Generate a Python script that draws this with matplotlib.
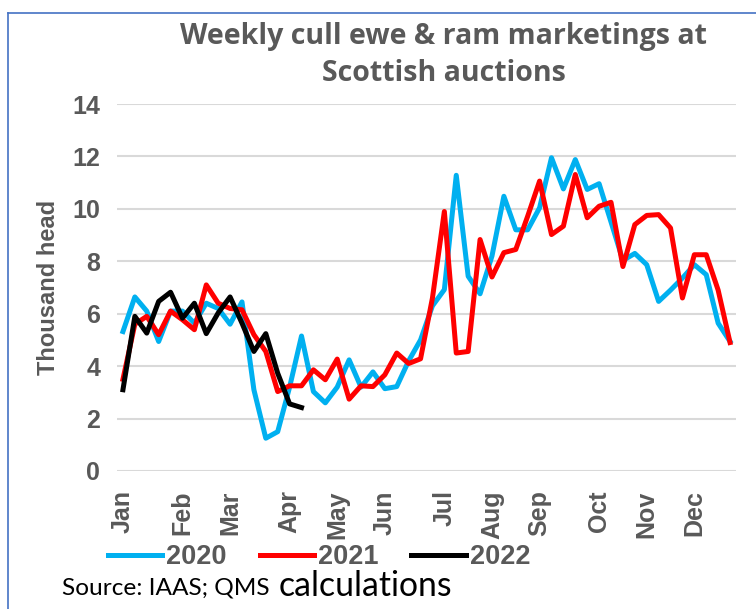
import matplotlib
matplotlib.use("Agg")
import matplotlib.pyplot as plt
from matplotlib.lines import Line2D

# weekly cull ewe & ram marketings, thousand head
y2020 = [5.32, 6.64, 6.1, 4.94, 6.1, 6.1, 5.64, 6.4, 6.2, 5.6,
         6.45, 3.1, 1.25, 1.5, 3.2, 5.15, 3.03, 2.6, 3.2, 4.24,
         3.2, 3.78, 3.14, 3.22, 4.2, 5.0, 6.3, 6.92, 11.28, 7.43,
         6.76, 8.2, 10.48, 9.2, 9.2, 10.04, 11.95, 10.76, 11.88, 10.74,
         10.96, 9.5, 8.03, 8.3, 7.87, 6.47, 6.9, 7.36, 7.87, 7.49,
         5.64, 4.94]
y2021 = [3.5, 5.6, 5.9, 5.2, 6.1, 5.77, 5.39, 7.1, 6.4, 6.2,
         6.15, 5.2, 4.56, 3.03, 3.25, 3.25, 3.86, 3.48, 4.27, 2.74,
         3.25, 3.22, 3.67, 4.5, 4.1, 4.28, 6.6, 9.9, 4.5, 4.56,
         8.83, 7.4, 8.33, 8.45, 9.72, 11.06, 9.02, 9.34, 11.31, 9.66,
         10.1, 10.25, 7.8, 9.4, 9.75, 9.78, 9.27, 6.6, 8.25, 8.25,
         6.9, 4.9]
y2022 = [3.1, 5.9, 5.26, 6.47, 6.82, 5.83, 6.4, 5.24, 6.03, 6.64,
         5.64, 4.56, 5.24, 3.73, 2.56, 2.42]

months = ["Jan", "Feb", "Mar", "Apr", "May", "Jun",
          "Jul", "Aug", "Sep", "Oct", "Nov", "Dec"]
month_weeks = [0, 5, 9, 14, 18, 22, 27, 31, 35, 40, 44, 48]

grey = "#595959"

fig = plt.figure(figsize=(7.56, 6.09), dpi=100)
ax = fig.add_axes([117/756, 1-471/609, (736-117)/756, (471-104)/609])

ax.plot(range(len(y2020)), y2020, color="#00B0F0", lw=3.6, label="2020")
ax.plot(range(len(y2021)), y2021, color="#FF0000", lw=3.6, label="2021")
ax.plot(range(len(y2022)), y2022, color="#000000", lw=3.6, label="2022")

ax.set_xlim(-0.5, 51.5)
ax.set_ylim(0, 14)
ax.set_yticks(range(0, 15, 2))
ax.set_xticks(month_weeks)
ax.set_xticklabels(months, rotation=90)
ax.grid(axis="y", color="#d9d9d9", lw=1.5)
ax.set_axisbelow(True)
for s in ax.spines.values():
    s.set_visible(False)
ax.tick_params(axis="y", length=0, labelsize=18, labelcolor=grey, pad=12)
ax.tick_params(axis="x", length=0, labelsize=18, labelcolor=grey, pad=14)
for lab in ax.get_xticklabels() + ax.get_yticklabels():
    lab.set_fontweight("bold")
    lab.set_family("Liberation Sans")

ax.set_ylabel("Thousand head", fontsize=17, fontweight="bold", color=grey,
              family="Liberation Sans", labelpad=9)

fig.text(444/756, 1-55/609, "Weekly cull ewe & ram marketings at\nScottish auctions",
         ha="center", va="center", fontsize=20.5, fontweight="bold", color=grey,
         family="Open Sans", linespacing=1.35)

leg = fig.legend(loc="center left", bbox_to_anchor=(97/756, 1-557/609), ncol=3,
                 frameon=False, handlelength=2.0, handletextpad=0.15,
                 columnspacing=1.22, borderaxespad=0,
                 prop={"family": "Liberation Sans", "weight": "bold", "size": 19.5})
for t in leg.get_texts():
    t.set_color(grey)

fig.text(62/756, 1-588/609, "Source: IAAS; QMS", ha="left", va="center",
         fontsize=17.6, family="Lato", color="black")
fig.text(279/756, 1-586/609, "calculations", ha="left", va="center",
         fontsize=24.3, family="Lato", color="black")

# chart frame
fig.add_artist(Line2D([8/756, 8/756], [0, 1-13/609], color="#4472C4", lw=1.2,
                      transform=fig.transFigure))
fig.add_artist(Line2D([8/756, 1], [1-13/609, 1-13/609], color="#4472C4", lw=1.2,
                      transform=fig.transFigure))

fig.savefig("out.png", dpi=100)
